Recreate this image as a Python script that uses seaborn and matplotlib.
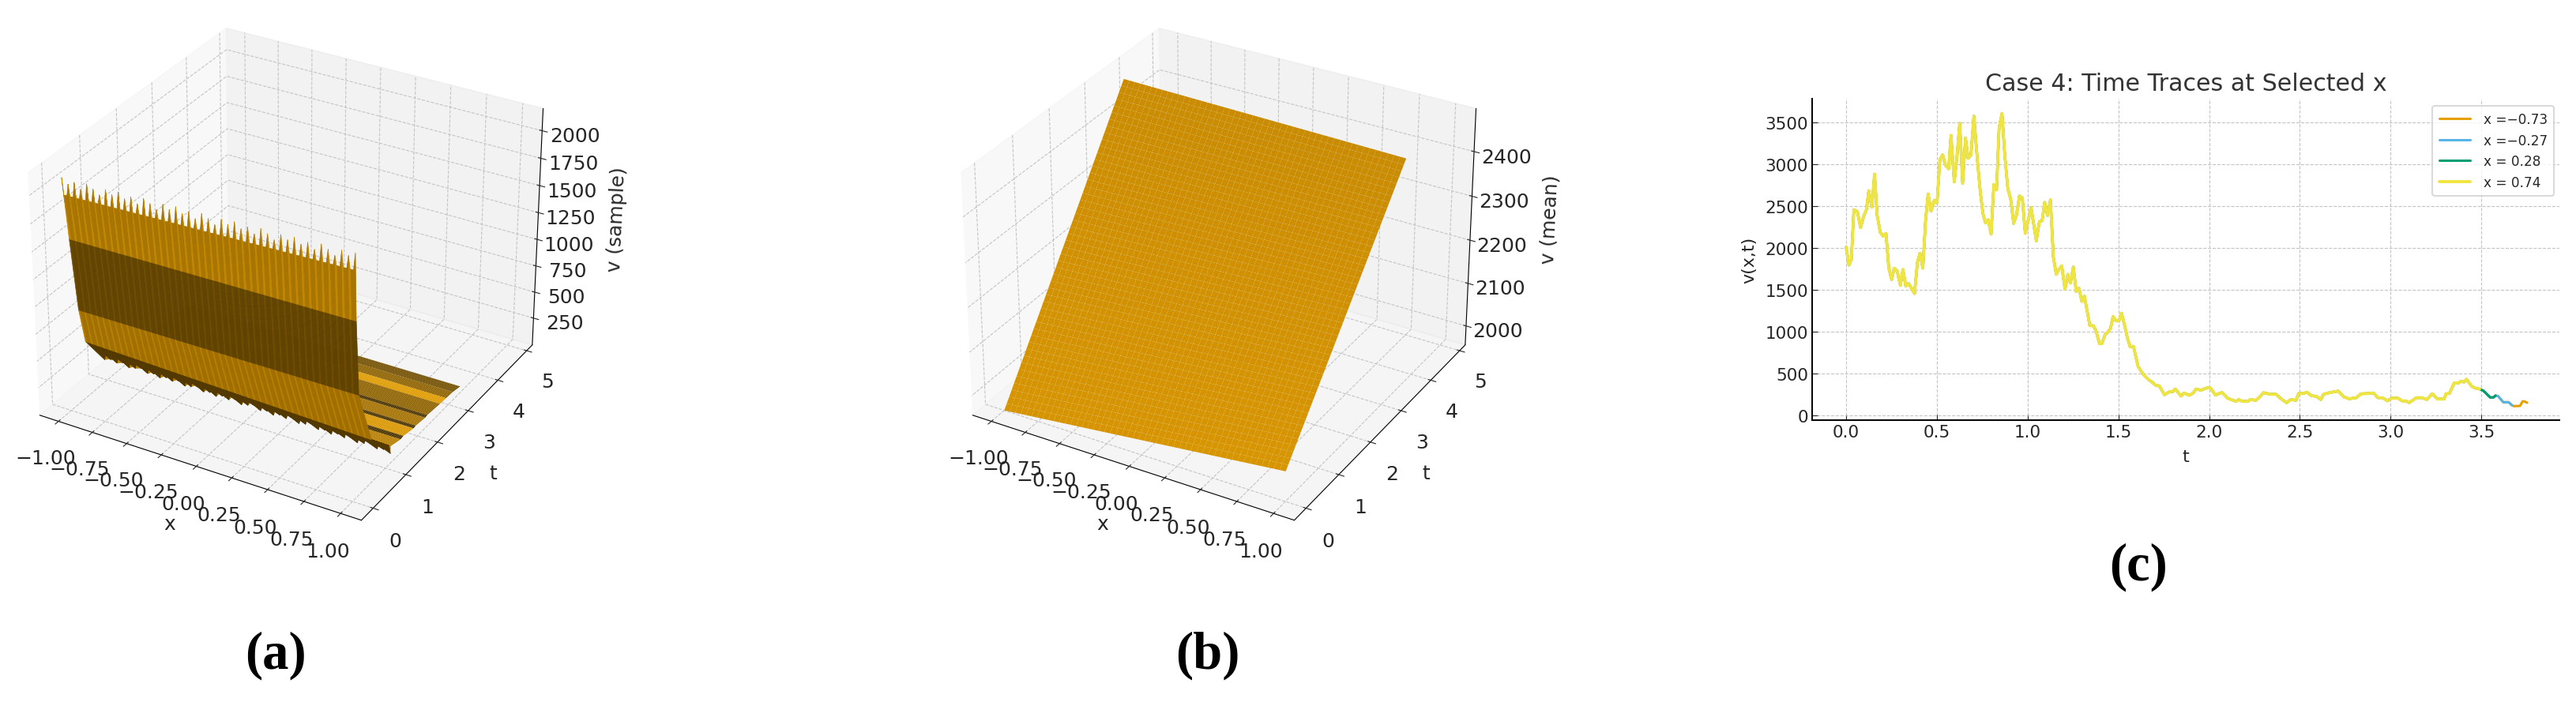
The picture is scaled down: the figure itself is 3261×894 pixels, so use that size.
import numpy as np
import seaborn as sns
from matplotlib import pyplot as plt
from matplotlib.colors import to_rgb

# time traces (c): all x stations sit on top of each other until they stop
trace_t = [0, .016, .029, .043, .062, .08, .097, .112, .125, .142, .157, .171, .188, .203, .22, .235, .251, .265, .281,
           .299, .313, .329, .345, .362, .377, .393, .407, .423, .438, .452, .468, .486, .501, .517, .532, .548, .565,
           .578, .596, .612, .626, .642, .658, .672, .688, .704, .722, .739, .754, .768, .783, .799, .814, .829, .843,
           .859, .874, .891, .907, .923, .939, .955, .971, .987, 1.019, 1.048, 1.065, 1.08, 1.094, 1.11, 1.126, 1.142,
           1.158, 1.174, 1.188, 1.206, 1.222, 1.236, 1.252, 1.268, 1.283, 1.299, 1.313, 1.343, 1.362, 1.377, 1.396,
           1.409, 1.428, 1.442, 1.457, 1.471, 1.488, 1.503, 1.517, 1.533, 1.551, 1.565, 1.583, 1.609, 1.638, 1.667,
           1.688, 1.707, 1.725, 1.754, 1.783, 1.8, 1.814, 1.845, 1.862, 1.891, 1.913, 1.928, 1.956, 1.981, 2.006, 2.035,
           2.071, 2.102, 2.148, 2.163, 2.184, 2.213, 2.228, 2.257, 2.276, 2.3, 2.337, 2.369, 2.398, 2.427, 2.45, 2.479,
           2.493, 2.518, 2.54, 2.562, 2.591, 2.615, 2.631, 2.663, 2.711, 2.743, 2.772, 2.811, 2.837, 2.874, 2.906,
           2.929, 2.954, 2.983, 3.004, 3.041, 3.062, 3.084, 3.102, 3.142, 3.171, 3.2, 3.229, 3.258, 3.295, 3.305, 3.324,
           3.35, 3.374, 3.389, 3.403, 3.418, 3.447, 3.469, 3.49, 3.512, 3.527, 3.549, 3.566, 3.578, 3.592, 3.621, 3.65,
           3.669, 3.679, 3.713, 3.727, 3.737, 3.752]
trace_v = [2010, 1795, 1865, 2457, 2435, 2243, 2378, 2457, 2684, 2488, 2882, 2394, 2190, 2142, 2174, 1764, 1622, 1758,
           1726, 1553, 1742, 1544, 1575, 1512, 1455, 1827, 1937, 1758, 2331, 2646, 2441, 2567, 2536, 3055, 3112, 2986,
           2945, 3345, 2788, 3118, 3490, 2772, 3314, 3071, 3112, 3575, 3087, 2678, 2410, 2300, 2337, 2164, 2756, 2693,
           3434, 3607, 3118, 2709, 2583, 2293, 2394, 2621, 2599, 2174, 2482, 2085, 2315, 2325, 2545, 2388, 2574, 1890,
           1685, 1748, 1786, 1506, 1685, 1581, 1773, 1480, 1518, 1361, 1424, 1071, 1071, 1008, 857, 857, 970, 992, 1040,
           1181, 1128, 1128, 1222, 1087, 914, 819, 825, 583, 488, 425, 394, 356, 353, 246, 284, 284, 315, 230, 268, 239,
           268, 315, 299, 324, 331, 243, 274, 205, 167, 189, 167, 167, 189, 180, 214, 271, 252, 252, 195, 151, 189, 180,
           261, 261, 277, 236, 227, 189, 252, 271, 290, 220, 198, 211, 258, 261, 268, 211, 211, 173, 205, 205, 173, 173,
           151, 211, 211, 189, 258, 195, 195, 258, 261, 387, 387, 409, 397, 431, 346, 324, 315, 293, 261, 214, 214, 236,
           230, 157, 157, 120, 110, 113, 167, 167, 151]
trace_labels = ["x =\u22120.73", "x =\u22120.27", "x = 0.28", "x = 0.74"]
trace_end_t = [3.76, 3.67, 3.585, 3.49]
trace_lw = [2.2, 2.2, 2.2, 2.8]
okabe = ["#E69F00", "#56B4E9", "#009E73", "#F0E442"]

# sample surface (a): rows read at the x=-1 and x=1 edges, spikes on every fourth x node
a_t_left = [0, .13, .30, .45, .95, 1.15, 1.46, 1.55, 1.87, 1.94, 2.24, 2.31, 2.72, 2.92, 3.14, 3.39]
a_t_right = [0, .05, .15, .55, 1.15, 1.15, 1.46, 1.55, 1.87, 1.94, 2.24, 2.31, 2.72, 2.92, 3.14, 3.39]
a_v_left = [1970, 1542, 849, 513, 268, 150, 120, 125, 100, 105, 90, 95, 80, 75, 70, 50]
a_v_right = [2043, 1594, 913, 391, 150, 150, 120, 125, 100, 105, 90, 95, 80, 75, 70, 50]
a_spike = [150, 0, 0, 0, -70, 0, 0, 0, 0, 0, 0, 0, 0, 0, 0, 0]
a_shade = [0.73, 0.42, 0.70, 0.36, 0.80, 0.80, 0.33, 0.95, 0.33, 0.72, 0.33, 0.62, 0.98, 0.62, 0.50]
tooth_scale = [1.0, 0.7, 0.9, 0.6, 1.0, 0.8, 0.55, 0.95, 0.75]

# mean surface (b): plane through the corner heights, rows t=0 and t=end, columns x=-1 and x=1
b_t_end = 3.58
b_corners = [[1955, 2023], [2481, 2470]]
x_ticks_3d = [-1.0, -0.75, -0.5, -0.25, 0.0, 0.25, 0.5, 0.75, 1.0]

sns.set_style("ticks", rc={
    "axes.grid": True,
    "grid.linestyle": "--",
    "grid.color": "#c4c4c4",
    "grid.linewidth": 1.1,
    "xtick.direction": "in",
    "ytick.direction": "in",
    "axes.spines.top": False,
    "axes.spines.right": False,
    "axes.edgecolor": "black",
})
plt.rcParams["font.family"] = ["DejaVu Sans"]

W, H = 3262, 895
fig = plt.figure(figsize=(W / 100, H / 100), dpi=100)


def add_3d(cx, cy, size):
    ax = fig.add_axes([(cx - size / 2) / W, 1 - (cy + size / 2) / H, size / W, size / H], projection="3d")
    ax.patch.set_alpha(0)
    ax.set_xlim(-1.14, 1.14)
    ax.set_ylim(-0.35, 5.2)
    ax.set_xticks(x_ticks_3d)
    ax.set_yticks(range(0, 6))
    ax.tick_params(labelsize=18, pad=10)
    ax.set_xlabel("x", fontsize=18, labelpad=16)
    ax.set_ylabel("t", fontsize=18, labelpad=15)
    return ax


# (a)
ax_a = add_3d(358, 343, 725)
ax_a.computed_zorder = False
x_a = np.linspace(-1, 1, 181)
s = (x_a + 1) / 2
T = np.outer(a_t_left, 1 - s) + np.outer(a_t_right, s)
Z = np.outer(a_v_left, 1 - s) + np.outer(a_v_right, s)
X = np.tile(x_a, (len(a_t_left), 1))
teeth = np.resize(tooth_scale, len(x_a[::4]))
for i, spike in enumerate(a_spike):
    Z[i, ::4] += spike * teeth
rgb = np.array(to_rgb(okabe[0]))
# one surface per band, far bands first, so the wall stays in front of the flat part
for i in range(len(a_shade) - 1, -1, -1):
    face = np.ones((2, len(x_a), 4))
    face[..., :3] = a_shade[i] * rgb
    if i < 3:
        face[:, ::4, :3] = np.minimum(face[:, ::4, :3] * 1.15, 1)
    ax_a.plot_surface(X[i:i + 2], T[i:i + 2], Z[i:i + 2], facecolors=face, shade=False, rstride=1, cstride=1,
                      linewidth=0.5 if i < 4 else 0, antialiased=True, zorder=len(a_shade) - i)
ax_a.set_zlim(-10, 2200)
ax_a.set_zticks(range(250, 2001, 250))
ax_a.set_zlabel("v (sample)", fontsize=18, labelpad=24)

# (b)
ax_b = add_3d(1539, 343, 725)
x_b = np.linspace(-1, 1, 50)
t_b = np.linspace(0, b_t_end, 50)
X, T = np.meshgrid(x_b, t_b)
c = np.array(b_corners, dtype=float)
f = T / b_t_end
Z = (c[0, 0] * (1 - X) + c[0, 1] * (1 + X)) / 2 * (1 - f) + (c[1, 0] * (1 - X) + c[1, 1] * (1 + X)) / 2 * f
ax_b.plot_surface(X, T, Z, color=okabe[0], rstride=1, cstride=1, linewidth=0, antialiased=True)
ax_b.set_zlim(1955, 2495)
ax_b.set_zticks(range(2000, 2401, 100))
ax_b.set_zlabel("v (mean)", fontsize=18, labelpad=24)

# (c)
ax_c = fig.add_axes([2294 / W, 1 - 533 / H, (3240 - 2294) / W, (533 - 126) / H])
t_arr = np.array(trace_t)
v_arr = np.array(trace_v)
for label, end, col, lw in zip(trace_labels, trace_end_t, okabe, trace_lw):
    keep = t_arr <= end
    sns.lineplot(x=t_arr[keep], y=v_arr[keep], color=col, linewidth=lw, label=label, ax=ax_c, errorbar=None)
ax_c.set_xlim(-0.187, 3.93)
ax_c.set_ylim(-57, 3783)
ax_c.set_xticks(np.arange(0, 3.6, 0.5))
ax_c.set_yticks(range(0, 3501, 500))
ax_c.tick_params(labelsize=15.5, length=5)
ax_c.spines["left"].set_linewidth(1.4)
ax_c.spines["bottom"].set_linewidth(1.4)
ax_c.set_title("Case 4: Time Traces at Selected x", fontsize=21.7, color=".2", pad=8)
ax_c.set_xlabel("t", fontsize=16, labelpad=8)
ax_c.set_ylabel("v(x,t)", fontsize=16, labelpad=7)
leg = ax_c.legend(loc="upper right", fontsize=12.2, frameon=True, framealpha=0.8, edgecolor="0.82",
                  bbox_to_anchor=(0.993, 0.978), borderaxespad=0, handlelength=2.3, handletextpad=1.0, borderpad=0.5)
leg.get_frame().set_linewidth(1.5)

# panel letters
for s_txt, px, py in [("(a)", 349, 830), ("(b)", 1529, 830), ("(c)", 2707, 718)]:
    fig.text(px / W, 1 - py / H, s_txt, fontsize=48, fontweight="bold", color="black", family="Liberation Serif",
             ha="center", va="center")

fig.savefig("out.png", dpi=100)
